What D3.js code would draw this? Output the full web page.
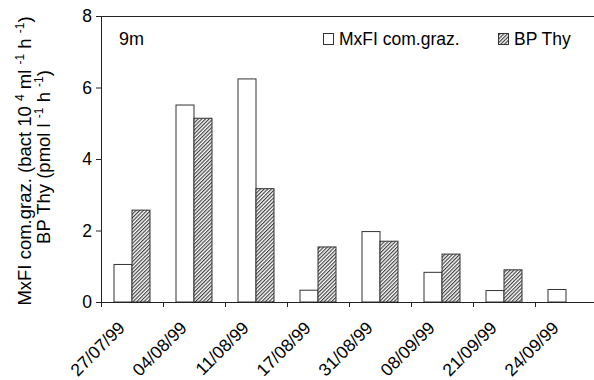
<!DOCTYPE html>
<html><head><meta charset="utf-8">
<script src="https://cdn.jsdelivr.net/npm/d3@7"></script>
<style>body{margin:0;background:#fff}svg{display:block;font-family:"Liberation Sans",Arial,sans-serif}</style>
</head><body><svg id="c" width="594" height="380"></svg>
<script>
const categories = ["27/07/99","04/08/99","11/08/99","17/08/99","31/08/99","08/09/99","21/09/99","24/09/99"];
const mxflValues = [1.05, 5.51, 6.24, 0.33, 1.97, 0.83, 0.32, 0.35];
const bpThyValues = [2.57, 5.14, 3.17, 1.54, 1.70, 1.34, 0.90, null];
const yTicks = [0, 2, 4, 6, 8];
const seriesNames = ["MxFI com.graz.", "BP Thy"];

const svg = d3.select("#c");
const x0 = 101, x1 = 597, yTop = 16, yBot = 302;
const x = d3.scaleBand().domain(categories).range([x0, x1]).padding(0);
const y = d3.scaleLinear().domain([0, 8]).range([yBot, yTop]);

const defs = svg.append("defs");
const pat = defs.append("pattern").attr("id","hatch").attr("patternUnits","userSpaceOnUse")
  .attr("width",2.6).attr("height",2.6).attr("patternTransform","rotate(45)");
pat.append("rect").attr("width",2.6).attr("height",2.6).attr("fill","#fff");
pat.append("rect").attr("width",1.2).attr("height",2.6).attr("fill","#444");

// top border line
svg.append("line").attr("x1",x0).attr("x2",594).attr("y1",yTop+0.5).attr("y2",yTop+0.5).attr("stroke","#222").attr("stroke-width",1);

const barW = 18, pad = (x.bandwidth() - 2*barW)/2;
const g = svg.append("g");
categories.forEach((c,i) => {
  const bx = x(c) + pad;
  g.append("rect").attr("x", bx).attr("y", y(mxflValues[i])).attr("width", barW)
    .attr("height", y(0)-y(mxflValues[i])).attr("fill","#fff").attr("stroke","#333").attr("stroke-width",1);
  if (bpThyValues[i] != null) {
    g.append("rect").attr("x", bx+barW).attr("y", y(bpThyValues[i])).attr("width", barW)
      .attr("height", y(0)-y(bpThyValues[i])).attr("fill","url(#hatch)").attr("stroke","#333").attr("stroke-width",1);
  }
});

// y axis
const yAxis = svg.append("g").attr("transform",`translate(${x0},0)`)
  .call(d3.axisLeft(y).tickValues(yTicks).tickSize(5).tickPadding(4).tickFormat(d3.format("d")));
yAxis.selectAll("text").attr("font-size",17.5).attr("fill","#000").attr("font-family","Liberation Sans, Arial, sans-serif");
yAxis.selectAll("line,path").attr("stroke","#222");

// x axis
const xAxisG = svg.append("g").attr("transform",`translate(0,${yBot})`);
xAxisG.append("line").attr("x1",x0).attr("x2",594).attr("y1",0.5).attr("y2",0.5).attr("stroke","#222");
xAxisG.selectAll("line.tk").data(categories).enter().append("line").attr("class","tk")
  .attr("x1",d=>x(d)+0.5).attr("x2",d=>x(d)+0.5).attr("y1",0).attr("y2",5).attr("stroke","#222");
xAxisG.selectAll("text").data(categories).enter().append("text")
  .attr("transform",d=>`translate(${x(d)+x.bandwidth()/2-6},27) rotate(-45)`)
  .attr("text-anchor","end").attr("font-size",17.5).text(d=>d);

// y title
const yt = svg.append("text").attr("transform","translate(31,161) rotate(-90)").attr("text-anchor","middle").attr("font-size",18.5);
yt.append("tspan").text("MxFI com.graz. (bact 10 ");
yt.append("tspan").attr("font-size",12).attr("dy",-7).text("4");
yt.append("tspan").attr("dy",7).text(" ml  ");
yt.append("tspan").attr("font-size",12).attr("dy",-7).text("-1");
yt.append("tspan").attr("dy",7).text(" h ");
yt.append("tspan").attr("font-size",12).attr("dy",-7).text("-1");
yt.append("tspan").attr("dy",7).text(")");
const yt2 = svg.append("text").attr("transform","translate(50,157) rotate(-90)").attr("text-anchor","middle").attr("font-size",18.5);
yt2.append("tspan").text("BP Thy (pmol l ");
yt2.append("tspan").attr("font-size",12).attr("dy",-7).text("-1");
yt2.append("tspan").attr("dy",7).text(" h ");
yt2.append("tspan").attr("font-size",12).attr("dy",-7).text("-1");
yt2.append("tspan").attr("dy",7).text(")");

// 9m label
svg.append("text").attr("x",119).attr("y",45).attr("font-size",18).text("9m");

// legend
const leg = [{x:323, fill:"#fff", name:seriesNames[0]}, {x:498, fill:"url(#hatch)", name:seriesNames[1]}];
leg.forEach(l => {
  svg.append("rect").attr("x",l.x+0.5).attr("y",33.5).attr("width",10).attr("height",11).attr("fill",l.fill).attr("stroke","#333");
  svg.append("text").attr("x",l.x+16).attr("y",45).attr("font-size",17.5).text(l.name);
});
</script></body></html>
